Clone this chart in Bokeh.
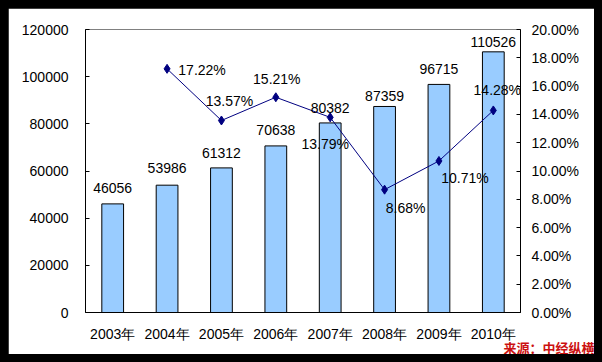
from bokeh.plotting import figure
from bokeh.layouts import column
from bokeh.core.properties import value
from bokeh.models import (ColumnDataSource, Range1d, LinearAxis, FixedTicker,
                          PrintfTickFormatter, LabelSet, Title, FactorRange)
from bokeh.embed import file_html
from bokeh.resources import INLINE

# ---- data ----
years = ["2003年", "2004年", "2005年", "2006年", "2007年", "2008年", "2009年", "2010年"]
values = [46056, 53986, 61312, 70638, 80382, 87359, 96715, 110526]
growth_years = ["2004年", "2005年", "2006年", "2007年", "2008年", "2009年", "2010年"]
growth = [17.22, 13.57, 15.21, 13.79, 8.68, 10.71, 14.28]
left_ticks = [0, 20000, 40000, 60000, 80000, 100000, 120000]
right_ticks = [0, 2, 4, 6, 8, 10, 12, 14, 16, 18, 20]

# label placement (pixels)
bar_label_dy = [11, 12, 10, 11, 10, 5, 10, 5]
pct_label_dx = [35, 8, 1, -5, 21, 26, 4]
pct_label_dy = [-1, 19, 18, -27, -18, -17, 20]

FONT = "Liberation Sans"

p = figure(width=586, height=346, x_range=FactorRange(*years, range_padding=0),
           y_range=Range1d(0, 120000), output_backend="svg", toolbar_location=None,
           min_border_left=77, min_border_right=74, min_border_top=21, min_border_bottom=42)
p.extra_y_ranges = {"pct": Range1d(0, 20)}
p.outline_line_color = "#808080"
p.xgrid.visible = False
p.ygrid.visible = False
p.background_fill_color = "white"
p.border_fill_color = "white"

bars = ColumnDataSource(dict(x=years, top=values, text=[str(v) for v in values], dy=bar_label_dy))
p.vbar(x="x", top="top", width=0.4, source=bars, fill_color="#99CCFF",
       line_color="black", line_width=1)

line_src = ColumnDataSource(dict(x=growth_years, y=growth,
                                 text=["%.2f%%" % g for g in growth],
                                 dx=pct_label_dx, dy=pct_label_dy))
p.line(x="x", y="y", source=line_src, y_range_name="pct", line_color="#000080", line_width=1)
p.scatter(x="x", y="y", source=line_src, y_range_name="pct", marker="diamond", size=9,
          fill_color="#000080", line_color="#000080")

p.add_layout(LabelSet(x="x", y="top", text="text", source=bars, y_offset="dy",
                      text_align="center", text_baseline="alphabetic",
                      text_font=value(FONT), text_font_size="14px", text_color="black"))
p.add_layout(LabelSet(x="x", y="y", text="text", source=line_src, y_range_name="pct",
                      x_offset="dx", y_offset="dy", text_align="center",
                      text_baseline="middle", text_font=value(FONT), text_font_size="14px",
                      text_color="black"))

# axes
ax = p.xaxis[0]
ax.axis_line_color = "black"
ax.major_tick_in = 0
ax.major_tick_out = 0
ax.major_label_standoff = 13
ax.major_label_text_font = FONT
ax.major_label_text_font_size = "14px"
ax.major_label_text_color = "black"

ay = p.yaxis[0]
ay.ticker = FixedTicker(ticks=left_ticks)
ay.formatter = PrintfTickFormatter(format="%d")
ay.major_tick_in = 4
ay.major_tick_out = 0
ay.minor_tick_in = 0
ay.minor_tick_out = 0
ay.major_label_standoff = 17
ay.major_label_text_font = FONT
ay.major_label_text_font_size = "14px"
ay.major_label_text_color = "black"

ry = LinearAxis(y_range_name="pct", ticker=FixedTicker(ticks=right_ticks),
                formatter=PrintfTickFormatter(format="%.2f%%"))
ry.major_tick_in = 4
ry.major_tick_out = 0
ry.minor_tick_in = 0
ry.minor_tick_out = 0
ry.major_label_standoff = 11
ry.major_label_text_font = FONT
ry.major_label_text_font_size = "14px"
ry.major_label_text_color = "black"
p.add_layout(ry, "right")

wm = Title(text="来源：中经纵横", align="right", offset=-74, standoff=-14,
           vertical_align="top", text_color="#CC1111", text_font="Noto Sans CJK SC",
           text_font_size="13px", text_font_style="bold")
p.add_layout(wm, "below")

page = column(p, styles={"padding": "8px", "background-color": "black"})

open("out.html", "w").write(file_html(page, INLINE))
